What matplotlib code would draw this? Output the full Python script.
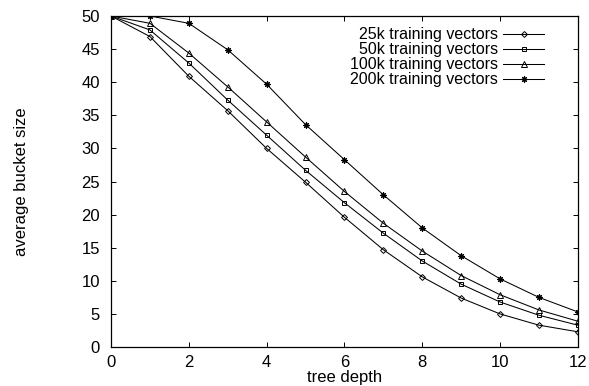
import numpy as np
import matplotlib
matplotlib.use("Agg")
import matplotlib.pyplot as plt

plt.rcParams['font.family'] = ['Liberation Sans', 'DejaVu Sans']

# tree depth
depth = [0, 1, 2, 3, 4, 5, 6, 7, 8, 9, 10, 11, 12]

# average bucket size per training set size
v25k = [50, 46.9, 40.9, 35.7, 30.0, 24.9, 19.6, 14.7, 10.6, 7.4, 5.0, 3.3, 2.3]
v50k = [50, 47.9, 42.9, 37.3, 32.0, 26.7, 21.8, 17.2, 13.0, 9.5, 6.8, 4.8, 3.3]
v100k = [50, 48.9, 44.4, 39.3, 34.0, 28.7, 23.5, 18.7, 14.5, 10.8, 7.9, 5.6, 3.9]
v200k = [50, 50, 48.9, 44.9, 39.7, 33.6, 28.3, 23.0, 18.0, 13.8, 10.3, 7.5, 5.3]

labels = ["25k training vectors", "50k training vectors",
          "100k training vectors", "200k training vectors"]

fig = plt.figure(figsize=(5.89, 3.86), dpi=100)
ax = fig.add_axes([0.1885, 0.101, 0.7925, 0.8575])

ms = 3.5
lw = 0.75
ax.plot(depth, v25k, color='black', lw=lw, marker='D', ms=3, mfc='none', mew=0.7, label=labels[0])
ax.plot(depth, v50k, color='black', lw=lw, marker='s', ms=ms, mfc='none', mew=0.7, label=labels[1])
ax.plot(depth, v100k, color='black', lw=lw, marker='^', ms=ms + 0.5, mfc='none', mew=0.7, label=labels[2])
ax.plot(depth, v200k, color='black', lw=lw, marker=(8, 2, 0), ms=ms + 1, mew=0.8, label=labels[3])

ax.set_xlim(0, 12)
ax.set_ylim(0, 50)
ax.set_xticks(range(0, 13, 2))
ax.set_yticks(range(0, 51, 5))
ax.tick_params(direction='in', top=True, right=True, length=3.6, width=0.7, labelsize=12)
ax.tick_params(axis='y', pad=8)
ax.tick_params(axis='x', pad=6)
for s in ax.spines.values():
    s.set_linewidth(0.9)

ax.set_xlabel("tree depth", fontsize=12, labelpad=0)
ax.set_ylabel("average bucket size", fontsize=12, labelpad=38)

ax.legend(loc='upper right', frameon=False, markerfirst=False, fontsize=11.5,
          handlelength=2.6, handletextpad=0.3, labelspacing=0.0,
          borderaxespad=0.0, numpoints=1, bbox_to_anchor=(0.942, 0.985))

fig.savefig("out.png", dpi=100)
